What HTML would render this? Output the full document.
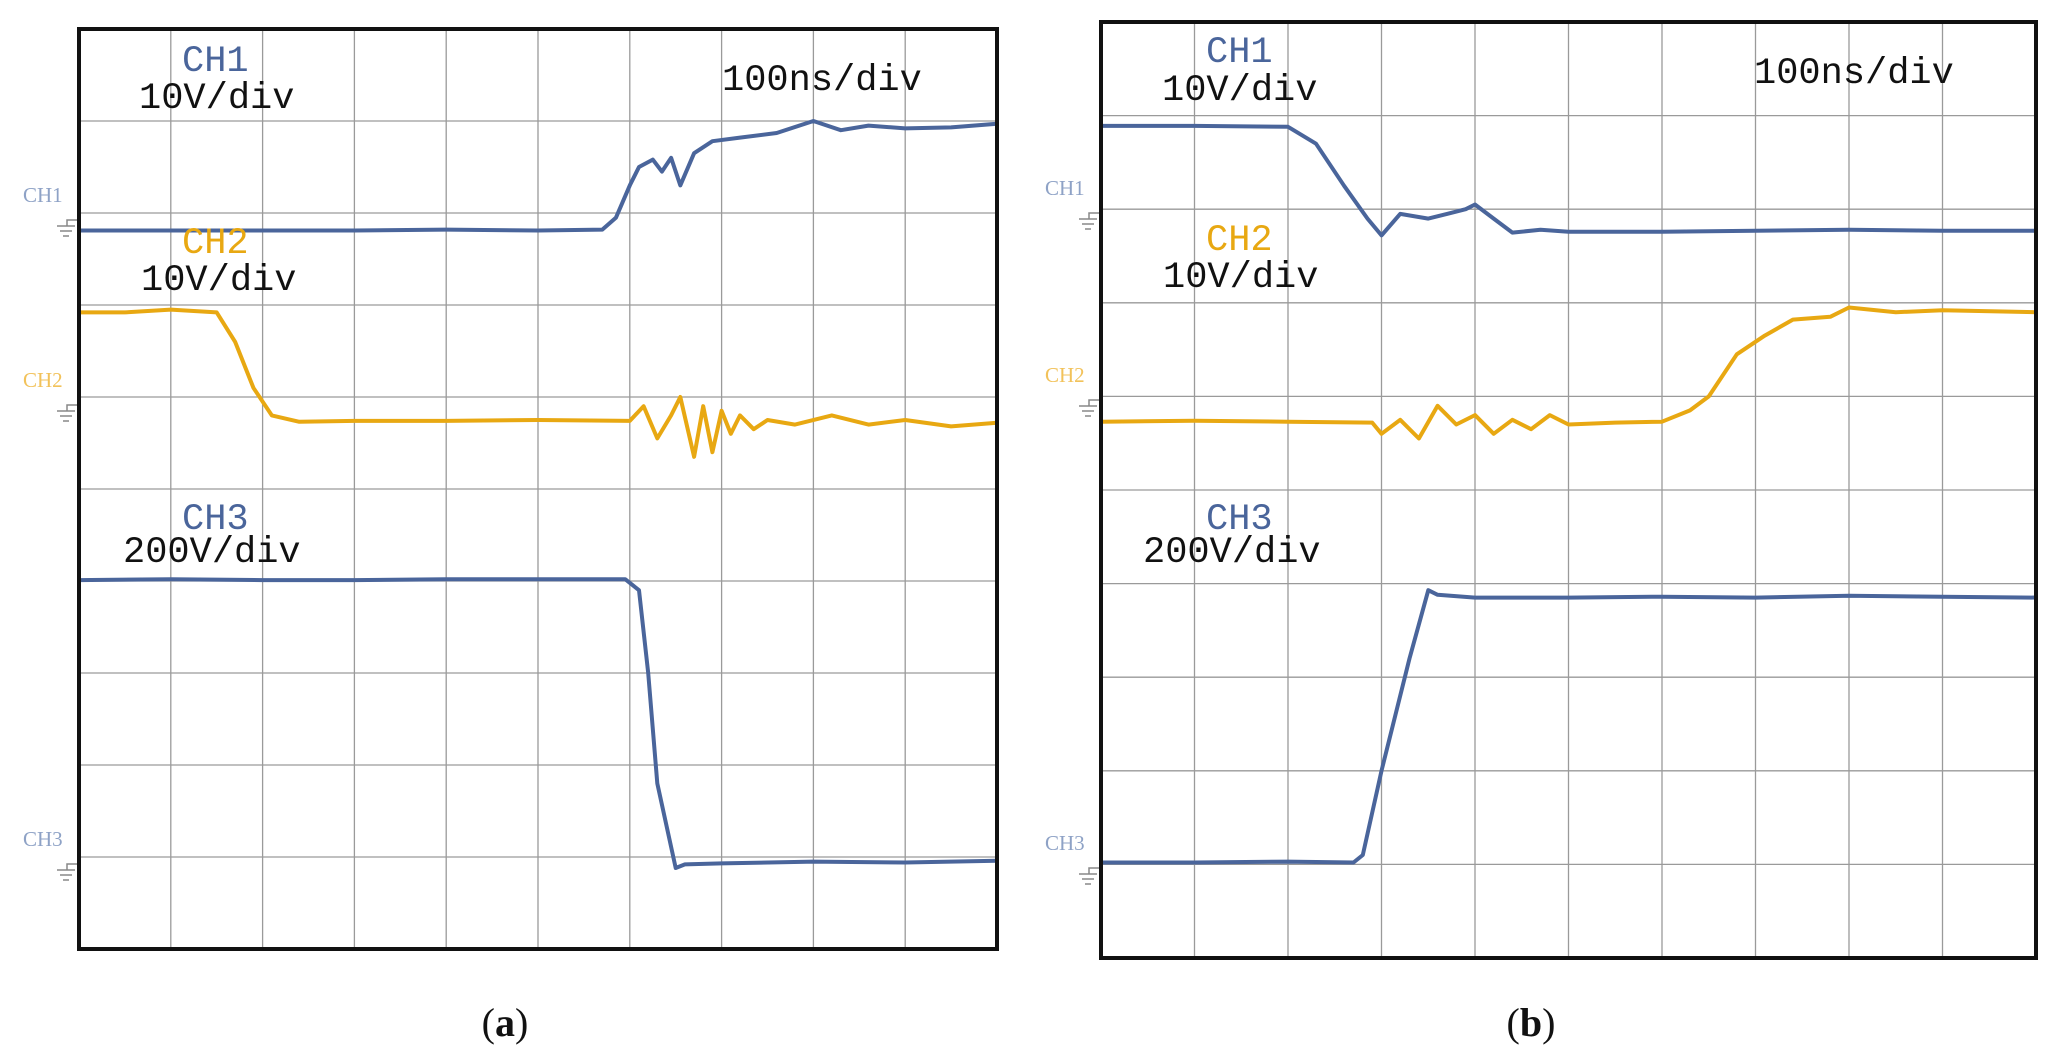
<!DOCTYPE html>
<html><head><meta charset="utf-8"><style>
html,body{margin:0;padding:0;background:#fff;}
svg{display:block;}
</style></head><body>
<svg id="fig" width="2063" height="1063" viewBox="0 0 2063 1063" xmlns="http://www.w3.org/2000/svg"></svg>
<script>
// Data in divisions: x = time div (0..10), y = divs from top (0..10)
const chA_ch1_t = [0,1,2,3,4,5,5.7,5.85,6.0,6.1,6.25,6.35,6.45,6.55,6.7,6.9,7.2,7.6,8.0,8.3,8.6,9,9.5,10];
const chA_ch1_v = [2.19,2.19,2.19,2.19,2.18,2.19,2.18,2.05,1.7,1.5,1.42,1.55,1.4,1.7,1.35,1.22,1.18,1.13,1.0,1.1,1.05,1.08,1.07,1.03];
const chA_ch2_t = [0,0.5,1.0,1.5,1.7,1.9,2.1,2.4,3,4,5,6.0,6.15,6.3,6.45,6.55,6.7,6.8,6.9,7.0,7.1,7.2,7.35,7.5,7.8,8.2,8.6,9,9.5,10];
const chA_ch2_v = [3.08,3.08,3.05,3.08,3.4,3.9,4.2,4.27,4.26,4.26,4.25,4.26,4.1,4.45,4.2,4.0,4.65,4.1,4.6,4.15,4.4,4.2,4.35,4.25,4.3,4.2,4.3,4.25,4.32,4.28];
const chA_ch3_t = [0,1,2,3,4,5,5.95,6.1,6.2,6.3,6.5,6.6,7,8,9,10];
const chA_ch3_v = [5.99,5.98,5.99,5.99,5.98,5.98,5.98,6.1,7.0,8.2,9.12,9.08,9.07,9.05,9.06,9.04];
const chB_ch1_t = [0,1,2.0,2.3,2.6,2.85,3.0,3.2,3.5,3.7,3.9,4.0,4.2,4.4,4.7,5,6,7,8,9,10];
const chB_ch1_v = [1.11,1.11,1.12,1.3,1.75,2.1,2.28,2.05,2.1,2.05,2.0,1.95,2.1,2.25,2.22,2.24,2.24,2.23,2.22,2.23,2.23];
const chB_ch2_t = [0,1,2,2.9,3.0,3.2,3.4,3.6,3.8,4.0,4.2,4.4,4.6,4.8,5.0,5.5,6.0,6.3,6.5,6.8,7.1,7.4,7.8,8.0,8.5,9,10];
const chB_ch2_v = [4.27,4.26,4.27,4.28,4.4,4.25,4.45,4.1,4.3,4.2,4.4,4.25,4.35,4.2,4.3,4.28,4.27,4.15,4.0,3.55,3.35,3.18,3.15,3.05,3.1,3.08,3.1];
const chB_ch3_t = [0,1,2,2.7,2.8,3.0,3.3,3.5,3.6,4,5,6,7,8,9,10];
const chB_ch3_v = [8.98,8.98,8.97,8.98,8.9,8.0,6.8,6.07,6.12,6.15,6.15,6.14,6.15,6.13,6.14,6.15];

const NS='http://www.w3.org/2000/svg';
const svg=document.getElementById('fig');
function mk(tag,attrs,parent){const e=document.createElementNS(NS,tag);for(const k in attrs)e.setAttribute(k,attrs[k]);(parent||svg).appendChild(e);return e;}
const BLUE='#4a659b', ORANGE='#e8a812', LBLUE='#8ea2c6', LORANGE='#f2c25a';

function panel(p){
  const g=mk('g',{});
  
  
  const xs=d=>p.x0+(p.x1-p.x0)*d/10, ys=d=>p.y0+(p.y1-p.y0)*d/10;
  for(let i=1;i<10;i++){
    const l=mk('line',{x1:xs(i),x2:xs(i),y1:p.y0,y2:p.y1,stroke:'#9a9a9a','stroke-width':1.3},g);
    
    
    const h=mk('line',{x1:p.x0,x2:p.x1,y1:ys(i),y2:ys(i),stroke:'#9a9a9a','stroke-width':1.3},g);
    
    
  }
  p.traces.forEach(tr=>{
    const pts=tr.t.map((t,i)=>xs(t).toFixed(1)+','+ys(tr.v[i]).toFixed(1)).join(' ');
    const pl=mk('polyline',{points:pts,fill:'none',stroke:tr.c,'stroke-width':4,'stroke-linejoin':'round'},g);
    
    
  });
  const fr=mk('rect',{x:p.x0,y:p.y0,width:p.x1-p.x0,height:p.y1-p.y0,fill:'none',stroke:'#111','stroke-width':4},g);
  
  
  // ground markers
  p.gnd.forEach(gm=>{
    const t=mk('text',{x:p.x0-56,y:gm.y,fill:gm.c,'font-family':'Liberation Serif, serif','font-size':21},g);
    t.textContent=gm.n;
    
    
    const gy=gm.y+18, gx=p.x0-12;
    const s=mk('path',{d:`M${gx+10} ${gy} H${gx} V${gy+6} M${gx-10} ${gy+6} H${gx+8} M${gx-7} ${gy+11} H${gx+5} M${gx-4} ${gy+16} H${gx+2}`,stroke:'#888','stroke-width':1.5,fill:'none'},g);
    
    
  });
  p.labels.forEach(lb=>{
    const t=mk('text',{x:lb.x,y:lb.y,fill:lb.c,'font-family':'Liberation Mono, monospace','font-size':lb.s||37},g);
    t.textContent=lb.t;
    
    
  });
  const cap=mk('text',{x:p.cx,y:1036,'text-anchor':'middle','font-family':'Liberation Serif, serif','font-size':40,fill:'#111'},g);
  cap.innerHTML='(<tspan font-weight="bold">'+p.cap+'</tspan>)';
  
  
}

panel({name:'panel-a',x0:79,x1:997,y0:29,y1:949,cx:505,cap:'a',
  traces:[{t:chA_ch1_t,v:chA_ch1_v,c:BLUE,n:'trace-ch1'},{t:chA_ch2_t,v:chA_ch2_v,c:ORANGE,n:'trace-ch2'},{t:chA_ch3_t,v:chA_ch3_v,c:BLUE,n:'trace-ch3'}],
  gnd:[{n:'CH1',y:202,c:LBLUE},{n:'CH2',y:387,c:LORANGE},{n:'CH3',y:846,c:LBLUE}],
  labels:[{t:'CH1',x:182,y:71,c:BLUE,n:'ch1-label'},{t:'10V/div',x:139,y:108,c:'#111',n:'ch1-scale'},
    {t:'100ns/div',x:722,y:90,c:'#111',n:'timebase-label'},
    {t:'CH2',x:182,y:253,c:ORANGE,n:'ch2-label'},{t:'10V/div',x:141,y:290,c:'#111',n:'ch2-scale'},
    {t:'CH3',x:182,y:529,c:BLUE,n:'ch3-label'},{t:'200V/div',x:123,y:562,c:'#111',n:'ch3-scale'}]});
panel({name:'panel-b',x0:1101,x1:2036,y0:22,y1:958,cx:1531,cap:'b',
  traces:[{t:chB_ch1_t,v:chB_ch1_v,c:BLUE,n:'trace-ch1'},{t:chB_ch2_t,v:chB_ch2_v,c:ORANGE,n:'trace-ch2'},{t:chB_ch3_t,v:chB_ch3_v,c:BLUE,n:'trace-ch3'}],
  gnd:[{n:'CH1',y:195,c:LBLUE},{n:'CH2',y:382,c:LORANGE},{n:'CH3',y:850,c:LBLUE}],
  labels:[{t:'CH1',x:1206,y:62,c:BLUE,n:'ch1-label'},{t:'10V/div',x:1162,y:100,c:'#111',n:'ch1-scale'},
    {t:'100ns/div',x:1754,y:83,c:'#111',n:'timebase-label'},
    {t:'CH2',x:1206,y:250,c:ORANGE,n:'ch2-label'},{t:'10V/div',x:1163,y:287,c:'#111',n:'ch2-scale'},
    {t:'CH3',x:1206,y:529,c:BLUE,n:'ch3-label'},{t:'200V/div',x:1143,y:562,c:'#111',n:'ch3-scale'}]});
</script>
</body></html>
